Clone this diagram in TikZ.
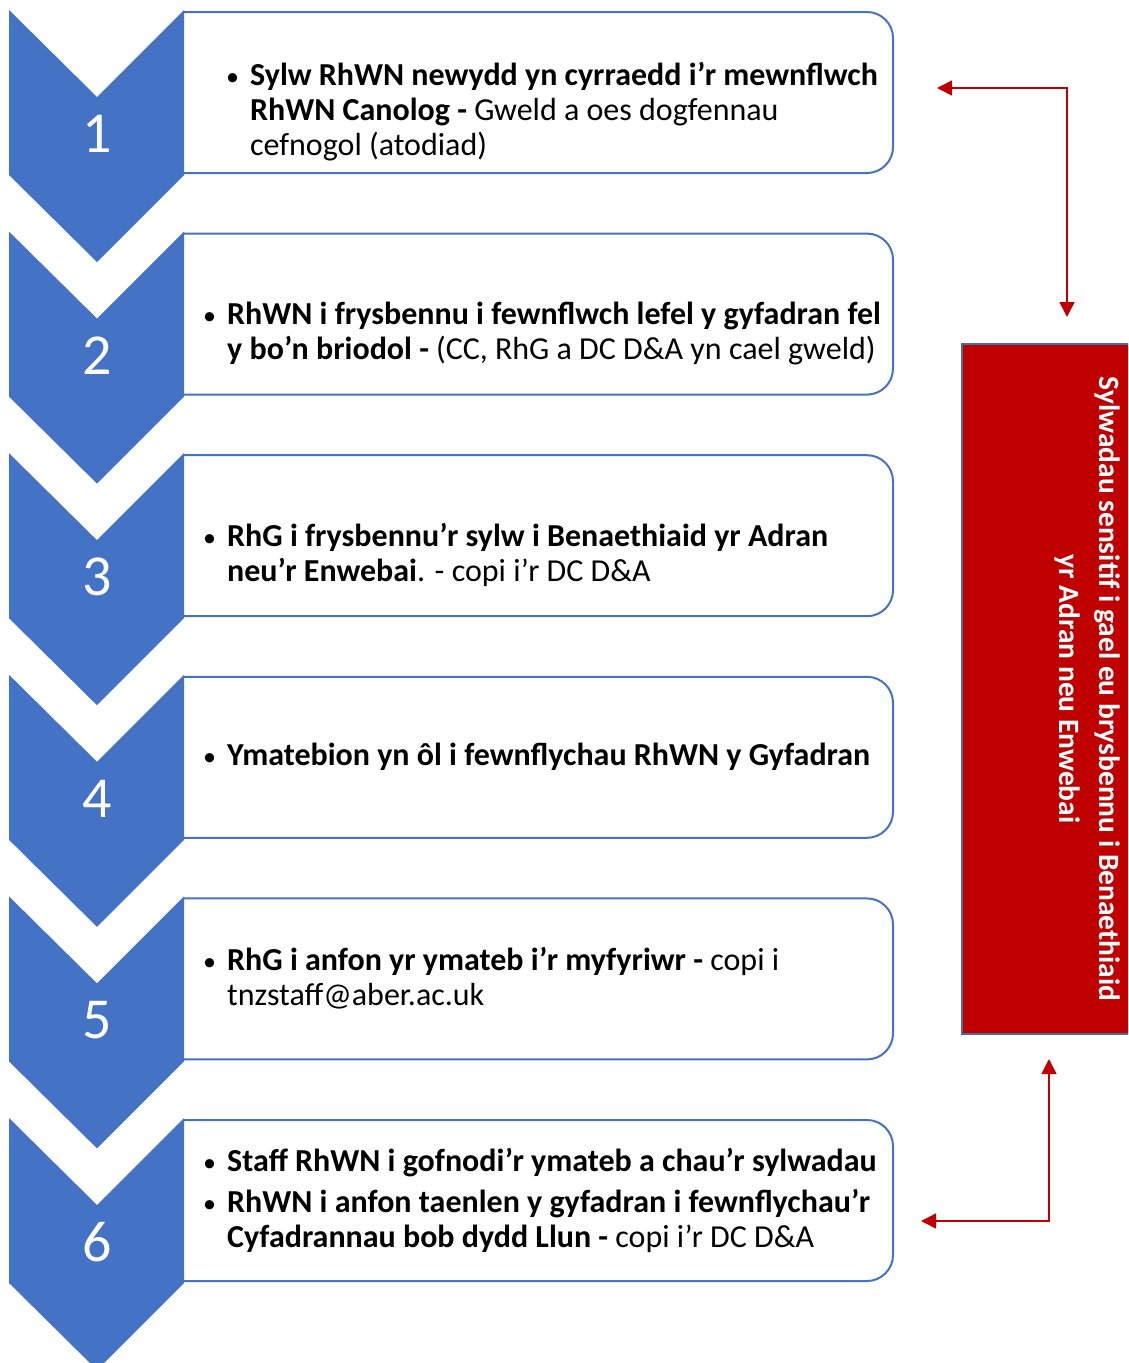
\documentclass[tikz,border=0pt]{standalone}
\usepackage{fontspec}
\setmainfont{Carlito}
\usepackage{tikz}
\usetikzlibrary{arrows.meta}
\definecolor{stepblue}{HTML}{4472C4}
\definecolor{sensred}{HTML}{C00000}
\definecolor{sensedge}{HTML}{41719C}
\newcommand{\bul}{\makebox[22pt][l]{\kern-2pt{\fontsize{26}{35}\selectfont\textbullet}}}
\newcommand{\ind}{\hspace*{22pt}}

\begin{document}
\begin{tikzpicture}[x=1pt, y=-1pt,
		steptext/.style={anchor=west, align=left, inner sep=0pt, font=\fontsize{32}{35}\selectfont},
		stepnum/.style={text=white, inner sep=0pt, font=\fontsize{58}{70}\selectfont},
		stepframe/.style={draw=stepblue, line width=2pt, rounded corners=26pt},
		link/.style={draw=sensred, line width=1.5pt, <->},
		>={Triangle[length=15pt, width=15pt]}]
	\useasboundingbox (0,0) rectangle (1128,1363);
	\clip (0,0) rectangle (1128,1363);
	\foreach \n in {1,...,6} {
		\pgfmathsetmacro{\ytop}{10+221.6*(\n-1)}
		\draw[stepframe] (184,\ytop+2) -- (893,\ytop+2) -- (893,\ytop+163) -- (184,\ytop+163);
		\fill[stepblue] (9,\ytop) -- (97,\ytop+87) -- (184,\ytop) -- (184,\ytop+165)
			-- (97,\ytop+252) -- (9,\ytop+165) -- cycle;
		\node[stepnum] (num\n) at (97,\ytop+124) {\n};
	}
	\node[steptext] (txt1) at (228,112) {\bul\textbf{Sylw RhWN newydd yn cyrraedd i’r mewnflwch}\\
		\ind\textbf{RhWN Canolog -} Gweld a oes dogfennau\\
		\ind cefnogol (atodiad)};
	\node[steptext] (txt2) at (205,334) {\bul\textbf{RhWN i frysbennu i fewnflwch lefel y gyfadran fel}\\
		\ind\textbf{y bo’n briodol -} (CC, RhG a DC D\&A yn cael gweld)};
	\node[steptext] (txt3) at (205,555) {\bul\textbf{RhG i frysbennu’r sylw i Benaethiaid yr Adran}\\
		\ind\textbf{neu’r Enwebai}. - copi i’r DC D\&A};
	\node[steptext] (txt4) at (205,757) {\bul\textbf{Ymatebion yn ôl i fewnflychau RhWN y Gyfadran}};
	\node[steptext] (txt5) at (205,978) {\bul\textbf{RhG i anfon yr ymateb i’r myfyriwr -} copi i\\
		\ind tnzstaff@aber.ac.uk};
	\node[steptext] (txt6) at (205,1200) {\bul\textbf{Staff RhWN i gofnodi’r ymateb a chau’r sylwadau}\\[6pt]
		\bul\textbf{RhWN i anfon taenlen y gyfadran i fewnflychau’r}\\
		\ind\textbf{Cyfadrannau bob dydd Llun -} copi i’r DC D\&A};
	\node[draw=sensedge, line width=1.5pt, fill=sensred, rotate=-90, minimum width=690pt,
		minimum height=252pt, text=white, align=center,
		font=\bfseries\fontsize{29.5}{40}\selectfont] (sens) at (1088,689)
		{Sylwadau sensitif i gael eu brysbennu i Benaethiaid\\yr Adran neu Enwebai};
	\coordinate (inTop) at (937,88);
	\coordinate (sensTop) at (1067,317);
	\coordinate (sensBot) at (1049,1059);
	\coordinate (inBot) at (921,1221);
	\draw[link] (inTop) -| (sensTop);
	\draw[link] (inBot) -| (sensBot);
\end{tikzpicture}
\end{document}
